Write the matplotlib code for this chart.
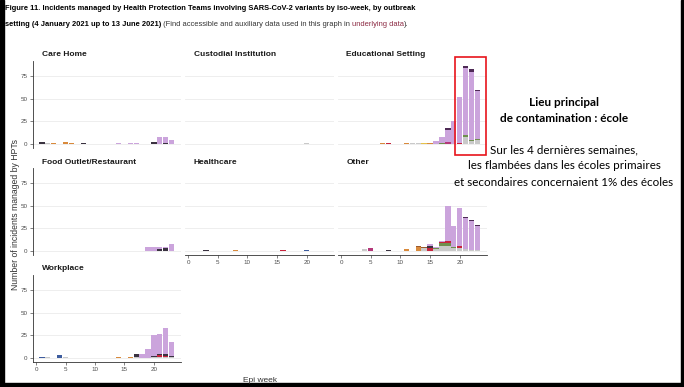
import numpy as np
import matplotlib.pyplot as plt
from matplotlib.patches import Rectangle

# Epi weeks 1..23, incidents per variant group (sparse: week -> count)
weeks = np.arange(1, 24)

care_home = {
    "dark": {1: 2, 8: 1, 20: 2, 22: 1.5},
    "grey": {2: 1},
    "orange": {3: 1, 5: 2.5, 6: 1.5},
    "lilac": {14: 1, 16: 1, 17: 1, 21: 8, 22: 6.5, 23: 4.5},
}
custodial = {
    "grey": {20: 1},
}
educational = {
    "grey": {12: 1, 13: 1, 21: 8, 22: 3, 23: 4},
    "green": {17: 1, 21: 2, 22: 1.5, 23: 2},
    "red": {8: 1, 20: 1.5},
    "pink": {18: 2},
    "dark": {13: 0.5},
    "orange": {7: 1, 11: 1.5, 15: 1},
    "yellow": {14: 1.5},
    "lilac": {16: 3, 17: 7, 18: 14, 19: 25, 20: 50, 21: 74, 22: 75, 23: 52},
    "plum": {18: 2, 21: 2, 22: 3, 23: 1},
}
food_outlet = {
    "grey": {18: 0.5},
    "dark": {21: 2, 22: 3},
    "lilac": {19: 4, 20: 4, 21: 2, 22: 1, 23: 7.5},
}
healthcare = {
    "red": {16: 1.5},
    "dark": {3: 0.7},
    "orange": {5: 0.5, 8: 0.7},
    "blue": {20: 1},
    "lilac": {18: 0.5, 19: 0.5, 21: 0.5, 22: 0.5, 23: 0.5},
}
other = {
    "grey": {4: 2, 6: 0.5, 7: 0.5, 14: 3, 16: 2, 17: 5, 18: 6, 19: 3, 20: 3, 21: 2, 22: 1, 23: 1},
    "green": {16: 1, 17: 4, 18: 3, 19: 1},
    "red": {15: 3, 17: 1, 18: 2, 20: 2},
    "pink": {5: 3},
    "dark": {8: 1.5, 15: 2},
    "orange": {11: 2, 13: 4},
    "brown": {13: 1, 14: 1},
    "yellow": {9: 0.5, 10: 0.5},
    "lilac": {15: 3, 16: 1, 17: 1, 18: 38, 19: 24, 20: 42, 21: 34, 22: 32, 23: 26},
    "plum": {18: 1, 21: 1, 22: 1, 23: 2},
}
workplace = {
    "grey": {2: 1, 5: 1, 11: 0.5, 17: 1, 20: 1, 21: 1, 22: 1, 23: 1},
    "red": {21: 2, 22: 1},
    "dark": {17: 3, 20: 1, 21: 1, 22: 2, 23: 1},
    "orange": {14: 1.5, 16: 1},
    "blue": {1: 1.5, 4: 3},
    "lilac": {18: 4, 19: 10, 20: 23, 21: 23, 22: 29, 23: 16},
}

stack_order = ["grey", "green", "red", "pink", "dark", "orange", "brown",
               "blue", "yellow", "lilac", "plum"]
colors = {
    "grey": "#C9C9C9", "green": "#6F8F4E", "red": "#C8233C", "pink": "#B4387A",
    "dark": "#3A3240", "orange": "#D98A3C", "brown": "#9C5A2E", "blue": "#3D5C9E",
    "yellow": "#E6C24A", "lilac": "#CBA4DC", "plum": "#4E2A55",
}

panels = [
    ("Care Home", care_home, 0, 0),
    ("Custodial Institution", custodial, 0, 1),
    ("Educational Setting", educational, 0, 2),
    ("Food Outlet/Restaurant", food_outlet, 1, 0),
    ("Healthcare", healthcare, 1, 1),
    ("Other", other, 1, 2),
    ("Workplace", workplace, 2, 0),
]
bottom_panels = {(2, 0), (1, 1), (1, 2)}

W, H = 684, 387
fig = plt.figure(figsize=(W / 100, H / 100), dpi=100)
plt.rcParams['font.family'] = ['Liberation Sans', 'DejaVu Sans']

col_x = [(32.5, 181), (184.5, 334), (337.5, 487)]
row_y = [(61, 148), (168, 255), (275, 362)]

for name, data, r, c in panels:
    x0, x1 = col_x[c]
    y0, y1 = row_y[r]
    ax = fig.add_axes([x0 / W, 1 - y1 / H, (x1 - x0) / W, (y1 - y0) / H])
    bottom = np.zeros(len(weeks))
    for key in stack_order:
        if key not in data:
            continue
        vals = np.array([data[key].get(w, 0) for w in weeks], dtype=float)
        ax.bar(weeks, vals, width=0.9, bottom=bottom, color=colors[key], linewidth=0)
        bottom += vals
    ax.set_xlim(-0.6, 24.6)
    ax.set_ylim(-4.35, 91.35)
    ax.set_yticks([0, 25, 50, 75])
    ax.set_xticks([0, 5, 10, 15, 20])
    ax.grid(axis='y', color='#EBEBEB', linewidth=0.6)
    ax.set_axisbelow(True)
    for s in ['top', 'right']:
        ax.spines[s].set_visible(False)
    ax.spines['left'].set_visible(c == 0)
    ax.spines['bottom'].set_visible((r, c) in bottom_panels)
    for s in ['left', 'bottom']:
        ax.spines[s].set_color('#333333')
        ax.spines[s].set_linewidth(0.6)
    ax.tick_params(labelsize=4.5, colors='#4D4D4D', length=2, width=0.5, pad=1.5)
    ax.tick_params(axis='y', left=(c == 0), labelleft=(c == 0))
    ax.tick_params(axis='x', bottom=((r, c) in bottom_panels),
                   labelbottom=((r, c) in bottom_panels))
    ax.patch.set_alpha(0)
    fig.text((x0 + 9) / W, 1 - (y0 - 6) / H, name, fontsize=6, fontweight='bold',
             ha='left', va='center', color='#1A1A1A')

fig.text(16 / W, 1 - 214 / H, "Number of incidents managed by HPTs", rotation=90,
         fontsize=6.2, color='#333333', ha='center', va='center')
fig.text(260 / W, 1 - 381 / H, "Epi week", fontsize=6, color='#333333',
         ha='center', va='center')

# figure caption
title_size = 5.4
fig.text(5 / W, 1 - 9 / H,
         "Figure 11. Incidents managed by Health Protection Teams involving "
         "SARS-CoV-2 variants by iso-week, by outbreak",
         fontsize=title_size, fontweight='bold', ha='left', va='center')
renderer = fig.canvas.get_renderer()
x = 5
for txt, weight, col in [("setting (4 January 2021 up to 13 June 2021)", 'bold', 'black'),
                         (" (Find accessible and auxiliary data used in this graph in ", 'normal', '#333333'),
                         ("underlying data", 'normal', '#8B2942'),
                         (").", 'normal', '#333333')]:
    t = fig.text(x / W, 1 - 24 / H, txt, fontsize=title_size, fontweight=weight,
                 color=col, ha='left', va='center')
    x += t.get_window_extent(renderer).width

# annotation box
fig.add_artist(Rectangle((455 / W, 1 - 155 / H), 31 / W, 98 / H, fill=False,
                         edgecolor='#E8141B', linewidth=1.2))
note_font = ['Lato', 'DejaVu Sans']
fig.text(564 / W, 1 - 103 / H, "Lieu principal", fontsize=8.5, fontweight='bold',
         family=note_font, ha='center', va='center')
fig.text(564 / W, 1 - 119 / H, "de contamination : école", fontsize=8.5, fontweight='bold',
         family=note_font, ha='center', va='center')
for yy, line in [(150, "Sur les 4 dernières semaines,"),
                 (166, "les flambées dans les écoles primaires"),
                 (182, "et secondaires concernaient 1% des écoles")]:
    fig.text(564 / W, 1 - yy / H, line, fontsize=8.4, family=note_font,
             ha='center', va='center')

# black frame of the slide
fig.add_artist(Rectangle((0, 0), 4 / W, 1, color='black'))
fig.add_artist(Rectangle((1 - 3 / W, 0), 3 / W, 1, color='black'))
fig.add_artist(Rectangle((0, 0), 1, 4 / H, color='black'))

fig.savefig('out.png', dpi=100)
